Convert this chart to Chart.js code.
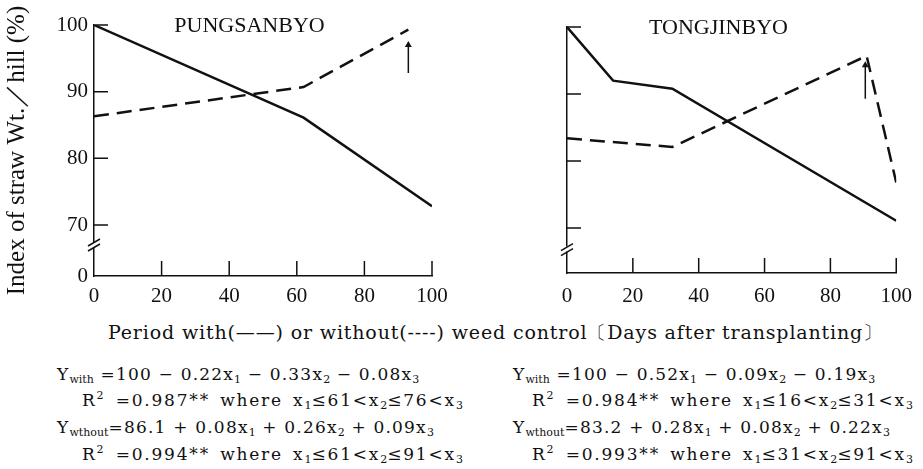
<!DOCTYPE html>
<html lang="en">
<head>
    <meta charset="UTF-8">
    <title>Index of straw weight per hill</title>
    <script src="https://cdn.jsdelivr.net/npm/chart.js"></script>
    <style>
        body { margin: 0; background: #fff; width: 923px; height: 469px; position: relative; overflow: hidden; font-family: "DejaVu Serif", serif; color: #111; }
        .panel { position: absolute; top: 0; height: 310px; }
        #leftBox { left: 0; width: 460px; }
        #rightBox { left: 460px; width: 463px; }
        .txt { position: absolute; white-space: nowrap; font-size: 17px; line-height: 20px; letter-spacing: 1.2px; }
        .txt sub { font-size: 11px; vertical-align: -3px; line-height: 0; letter-spacing: 0; }
        .txt sup { font-size: 11px; vertical-align: 7px; line-height: 0; }
        .r2 { letter-spacing: 1.8px; word-spacing: 3px; }
        #xTitle { font-size: 19px; letter-spacing: 0.85px; }
    </style>
</head>
<body>
    <div class="panel" id="leftBox"><canvas id="leftChart"></canvas></div>
    <div class="panel" id="rightBox"><canvas id="rightChart"></canvas></div>

    <div class="txt" id="xTitle" style="left:108px; top:322px;">Period with(——) or without(----) weed control〔Days after transplanting〕</div>

    <div class="txt" style="left:57px; top:364px;">Y<sub>with</sub> =100 − 0.22x<sub>1</sub> − 0.33x<sub>2</sub> − 0.08x<sub>3</sub></div>
    <div class="txt r2" style="left:82px; top:390px;">R<sup>2</sup> =0.987** where x<sub>1</sub>≤61&lt;x<sub>2</sub>≤76&lt;x<sub>3</sub></div>
    <div class="txt" style="left:57px; top:417px;">Y<sub>wthout</sub>=86.1 + 0.08x<sub>1</sub> + 0.26x<sub>2</sub> + 0.09x<sub>3</sub></div>
    <div class="txt r2" style="left:82px; top:444px;">R<sup>2</sup> =0.994** where x<sub>1</sub>≤61&lt;x<sub>2</sub>≤91&lt;x<sub>3</sub></div>

    <div class="txt" style="left:513px; top:364px;">Y<sub>with</sub> =100 − 0.52x<sub>1</sub> − 0.09x<sub>2</sub> − 0.19x<sub>3</sub></div>
    <div class="txt r2" style="left:532px; top:390px;">R<sup>2</sup> =0.984** where x<sub>1</sub>≤16&lt;x<sub>2</sub>≤31&lt;x<sub>3</sub></div>
    <div class="txt" style="left:513px; top:417px;">Y<sub>wthout</sub>=83.2 + 0.28x<sub>1</sub> + 0.08x<sub>2</sub> + 0.22x<sub>3</sub></div>
    <div class="txt r2" style="left:532px; top:444px;">R<sup>2</sup> =0.993** where x<sub>1</sub>≤31&lt;x<sub>2</sub>≤91&lt;x<sub>3</sub></div>

    <script>
        // axis ticks
        const xTicks = [0, 20, 40, 60, 80, 100];
        const yTicks = [70, 80, 90, 100];

        // PUNGSANBYO
        const pungWithDays = [0, 62, 100];
        const pungWith = [100, 86.1, 72.8];
        const pungWithoutDays = [0, 62, 93];
        const pungWithout = [86.3, 90.7, 99.3];
        const pungArrow = [93, 92.8, 97.0];   // day, from, to

        // TONGJINBYO
        const tongWithDays = [0, 14, 32, 100];
        const tongWith = [100, 92.0, 90.8, 71.1];
        const tongWithoutDays = [0, 32, 91, 100];
        const tongWithout = [83.4, 82.1, 95.7, 76.8];
        const tongArrow = [90.6, 89.3, 94.3];

        const ink = '#111';
        Chart.defaults.font.family = '"Liberation Serif", serif';
        Chart.defaults.color = ink;

        const toPoints = (days, vals) => days.map((d, i) => ({ x: d, y: vals[i] }));

        // inward tick marks, axis break and panel name
        const panelDeco = {
            id: 'panelDeco',
            afterDraw(chart) {
                const { ctx, chartArea: a, scales: { x, y } } = chart;
                const o = chart.options.plugins.panelDeco;
                ctx.save();
                ctx.strokeStyle = ink;
                ctx.lineWidth = 1.5;
                ctx.beginPath();
                xTicks.slice(1).forEach(v => {
                    const px = x.getPixelForValue(v);
                    ctx.moveTo(px, a.bottom);
                    ctx.lineTo(px, a.bottom - 15);
                });
                yTicks.forEach(v => {
                    const py = y.getPixelForValue(v);
                    ctx.moveTo(a.left, py);
                    ctx.lineTo(a.left + 14, py);
                });
                ctx.stroke();

                // break on the y axis
                const by = y.getPixelForValue(o.breakAt);
                ctx.fillStyle = '#fff';
                ctx.fillRect(a.left - 3, by - 3, 6, 5);
                ctx.beginPath();
                ctx.moveTo(a.left - 6, by + 1);
                ctx.lineTo(a.left + 6, by - 6);
                ctx.moveTo(a.left - 6, by + 6);
                ctx.lineTo(a.left + 6, by - 1);
                ctx.stroke();

                ctx.fillStyle = ink;
                ctx.font = '22px "Liberation Serif", serif';
                ctx.textAlign = 'center';
                ctx.textBaseline = 'middle';
                ctx.fillText(o.name, x.getPixelForValue(46), y.getPixelForValue(99.8));
                ctx.restore();
            }
        };

        function panelChart(id, p) {
            return new Chart(document.getElementById(id), {
                type: 'line',
                data: {
                    datasets: [
                        {
                            data: toPoints(p.withDays, p.withVals),
                            borderColor: ink, borderWidth: 2.5, pointRadius: 0
                        },
                        {
                            data: toPoints(p.withoutDays, p.withoutVals),
                            borderColor: ink, borderWidth: 2.5, borderDash: [15, 8], pointRadius: 0
                        },
                        {
                            data: [{ x: p.arrow[0], y: p.arrow[1] }, { x: p.arrow[0], y: p.arrow[2] }],
                            borderColor: ink, borderWidth: 1.5,
                            pointRadius: [0, 4], pointStyle: 'triangle',
                            pointBackgroundColor: ink, pointBorderWidth: 0
                        }
                    ]
                },
                options: {
                    responsive: true,
                    maintainAspectRatio: false,
                    animation: false,
                    layout: { padding: { top: p.top, right: p.right, left: 0, bottom: 0 } },
                    plugins: {
                        legend: { display: false },
                        tooltip: { enabled: false },
                        panelDeco: { name: p.name, breakAt: p.breakAt }
                    },
                    scales: {
                        x: {
                            type: 'linear', min: 0, max: 100,
                            afterBuildTicks: s => { s.ticks = xTicks.map(v => ({ value: v })); },
                            ticks: { font: { size: 21 }, padding: p.xPad, maxRotation: 0, autoSkip: false },
                            grid: { display: false, drawTicks: false },
                            border: { display: true, color: ink, width: 1.5 },
                            afterFit: s => { s.height = p.xHeight; }
                        },
                        y: {
                            type: 'linear', min: p.yMin, max: 100,
                            afterBuildTicks: s => { s.ticks = [p.yMin, ...yTicks].map(v => ({ value: v })); },
                            ticks: {
                                font: { size: 21 }, padding: 6, autoSkip: false,
                                callback: v => p.showLabels ? (v === p.yMin ? '0' : v) : ''
                            },
                            grid: { display: false, drawTicks: false },
                            border: { display: true, color: ink, width: 1.5 },
                            title: {
                                display: p.showLabels,
                                text: 'Index of straw Wt.／hill (%)',
                                font: { size: 25 },
                                padding: { top: 2, bottom: 0 }
                            },
                            afterFit: s => { s.width = p.yWidth; }
                        }
                    }
                },
                plugins: [panelDeco]
            });
        }

        panelChart('leftChart', {
            name: 'PUNGSANBYO',
            withDays: pungWithDays, withVals: pungWith,
            withoutDays: pungWithoutDays, withoutVals: pungWithout,
            arrow: pungArrow,
            yMin: 62.35, breakAt: 67, showLabels: true,
            top: 25, right: 28, yWidth: 94, xHeight: 34, xPad: 8
        });

        panelChart('rightChart', {
            name: 'TONGJINBYO',
            withDays: tongWithDays, withVals: tongWith,
            withoutDays: tongWithoutDays, withoutVals: tongWithout,
            arrow: tongArrow,
            yMin: 63.3, breakAt: 66.8, showLabels: false,
            top: 27, right: 17, yWidth: 107, xHeight: 37, xPad: 11
        });
    </script>
</body>
</html>
